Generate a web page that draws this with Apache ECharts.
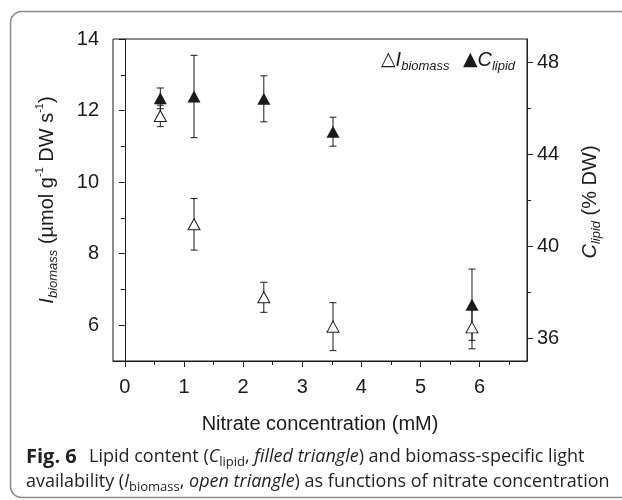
<!DOCTYPE html>
<html>
<head>
<meta charset="utf-8">
<script src="https://cdn.jsdelivr.net/npm/echarts@6/dist/echarts.min.js"></script>
<style>
  html, body { margin: 0; padding: 0; background: #fff; }
  #chart { width: 622px; height: 500px; }
</style>
</head>
<body>
<div id="chart"></div>
<script>
// nitrate concentration (mM)
const nitrate = [0.6, 1.17, 2.35, 3.52, 5.87];
// I_biomass (umol g-1 DW s-1), open triangles, left axis
const biomass = [11.85, 8.82, 6.78, 5.96, 5.94];
const biomassErr = [0.3, 0.72, 0.42, 0.67, 0.6];
// C_lipid (% DW), filled triangles, right axis
const lipid = [46.42, 46.5, 46.4, 44.97, 37.45];
const lipidErr = [0.45, 1.79, 1.0, 0.63, 1.55];

const xMajor = [0, 1, 2, 3, 4, 5, 6];
const xMinor = [0.5, 1.5, 2.5, 3.5, 4.5, 5.5, 6.5];
const leftMajor = [6, 8, 10, 12, 14];
const leftMinor = [7, 9, 11, 13];
const rightMajor = [36, 40, 44, 48];
const rightMinor = [38, 42, 46];

const ink = '#1a1a1a';
const capInk = '#231f20';
const axisFont = 'Liberation Sans, Arial, sans-serif';

const chart = echarts.init(document.getElementById('chart'));

function errorBar(params, api) {
    const x = api.value(0);
    const top = api.coord([x, api.value(2)]);
    const bot = api.coord([x, api.value(1)]);
    const w = 3.5;
    const st = { stroke: ink, lineWidth: 1 };
    return {
        type: 'group',
        children: [
            { type: 'line', shape: { x1: top[0], y1: top[1], x2: bot[0], y2: bot[1] }, style: st },
            { type: 'line', shape: { x1: top[0] - w, y1: top[1], x2: top[0] + w, y2: top[1] }, style: st },
            { type: 'line', shape: { x1: bot[0] - w, y1: bot[1], x2: bot[0] + w, y2: bot[1] }, style: st }
        ]
    };
}

const biomassBars = nitrate.map((x, i) => [x, biomass[i] - biomassErr[i], biomass[i] + biomassErr[i]]);
const lipidBars = nitrate.map((x, i) => [x, lipid[i] - lipidErr[i], lipid[i] + lipidErr[i]]);

function axisBase(min, max, pos, ticks, len, labels, margin) {
    return {
        type: 'value',
        min: min,
        max: max,
        position: pos,
        splitLine: { show: false },
        axisLine: { show: !!labels, lineStyle: { color: ink, width: 1 } },
        axisTick: { show: true, customValues: ticks, length: len, lineStyle: { color: ink, width: 1 } },
        axisLabel: labels ? {
            customValues: labels, color: ink, fontSize: 20, fontFamily: axisFont, margin: margin
        } : { show: false }
    };
}

const option = {
    animation: false,
    backgroundColor: '#fff',
    grid: { left: 113, top: 39, width: 414, height: 322, show: true, borderColor: ink, borderWidth: 1 },
    xAxis: [
        axisBase(-0.2, 6.8, 'bottom', xMajor, 6, xMajor, 16),
        axisBase(-0.2, 6.8, 'bottom', xMinor, 4, null)
    ],
    yAxis: [
        axisBase(5, 14, 'left', leftMajor, 6, leftMajor, 14),
        axisBase(5, 14, 'left', leftMinor, 4, null),
        axisBase(35, 49, 'right', rightMajor, 6, rightMajor, 10),
        axisBase(35, 49, 'right', rightMinor, 4, null)
    ],
    series: [
        {
            type: 'custom', xAxisIndex: 0, yAxisIndex: 2, renderItem: errorBar,
            data: lipidBars, z: 2, silent: true
        },
        {
            type: 'custom', xAxisIndex: 0, yAxisIndex: 0, renderItem: errorBar,
            data: biomassBars, z: 3, silent: true
        },
        {
            type: 'scatter', xAxisIndex: 0, yAxisIndex: 0, z: 4,
            symbol: 'triangle', symbolSize: [12, 11],
            itemStyle: { color: '#fff', borderColor: ink, borderWidth: 1, opacity: 1 },
            data: nitrate.map((x, i) => [x, biomass[i]])
        },
        {
            type: 'scatter', xAxisIndex: 0, yAxisIndex: 2, z: 5,
            symbol: 'triangle', symbolSize: [13, 12],
            itemStyle: { color: ink, opacity: 1 },
            data: nitrate.map((x, i) => [x, lipid[i]])
        }
    ],
    graphic: [
        {
            type: 'rect', silent: true, z: -1,
            shape: { x: 10.5, y: 11.5, width: 700, height: 486, r: 11 },
            style: { fill: 'none', stroke: '#8c8c8c', lineWidth: 1.5 }
        },
        // legend
        {
            type: 'text', left: 381, top: 50, silent: true,
            style: {
                text: '{sym|△}{i|I}{s|biomass}    {sym|▲}{i|C}{s|lipid}',
                fill: ink,
                rich: {
                    sym: { fontSize: 19, fontFamily: 'DejaVu Sans', fill: ink },
                    i: { fontSize: 20, fontStyle: 'italic', fontFamily: axisFont, fill: ink },
                    s: { fontSize: 13, fontStyle: 'italic', fontFamily: axisFont, fill: ink, padding: [13, 0, 0, 0] }
                }
            }
        },
        // left axis title
        {
            type: 'text', x: 47, y: 200, rotation: Math.PI / 2, silent: true,
            style: {
                text: '{i|I}{s|biomass}{n| (µmol g}{p|-1}{n| DW s}{p|-1}{n|)}',
                align: 'center', verticalAlign: 'middle', fill: ink,
                rich: {
                    i: { fontSize: 20, fontStyle: 'italic', fontFamily: axisFont, fill: ink },
                    n: { fontSize: 20, fontFamily: axisFont, fill: ink },
                    s: { fontSize: 13, fontStyle: 'italic', fontFamily: axisFont, fill: ink, padding: [13, 0, 0, 0] },
                    p: { fontSize: 11, fontFamily: axisFont, fill: ink, padding: [0, 0, 14, 0] }
                }
            }
        },
        // right axis title
        {
            type: 'text', x: 590, y: 202, rotation: Math.PI / 2, silent: true,
            style: {
                text: '{i|C}{s|lipid}{n| (% DW)}',
                align: 'center', verticalAlign: 'middle', fill: ink,
                rich: {
                    i: { fontSize: 20, fontStyle: 'italic', fontFamily: axisFont, fill: ink },
                    n: { fontSize: 20, fontFamily: axisFont, fill: ink },
                    s: { fontSize: 13, fontStyle: 'italic', fontFamily: axisFont, fill: ink, padding: [13, 0, 0, 0] }
                }
            }
        },
        // x axis title
        {
            type: 'text', x: 320, y: 424, silent: true,
            style: {
                text: 'Nitrate concentration (mM)',
                align: 'center', verticalAlign: 'middle',
                fontSize: 20, fontFamily: axisFont, fill: ink
            }
        },
        // caption
        {
            type: 'text', left: 26, top: 447, silent: true,
            style: {
                text: '{b|Fig. 6}{n|  Lipid content (}{i|C}{sub|lipid}{n|, }{i|filled triangle}{n|) and biomass-specific light}\n' +
                      '{n|availability (}{i|I}{sub|biomass}{n|, }{i|open triangle}{n|) as functions of nitrate concentration}',
                fill: capInk,
                rich: {
                    b: { fontSize: 20, fontWeight: 'bold', fontFamily: 'Open Sans', fill: capInk, lineHeight: 25, padding: [0, 3, 0, 0] },
                    n: { fontSize: 18, fontFamily: 'Open Sans', fill: capInk, lineHeight: 25 },
                    i: { fontSize: 18, fontStyle: 'italic', fontFamily: 'Open Sans', fill: capInk, lineHeight: 25 },
                    sub: { fontSize: 13, fontFamily: 'Open Sans', fill: capInk, padding: [10, 0, 0, 0] }
                }
            }
        }
    ]
};

chart.setOption(option);
</script>
</body>
</html>
